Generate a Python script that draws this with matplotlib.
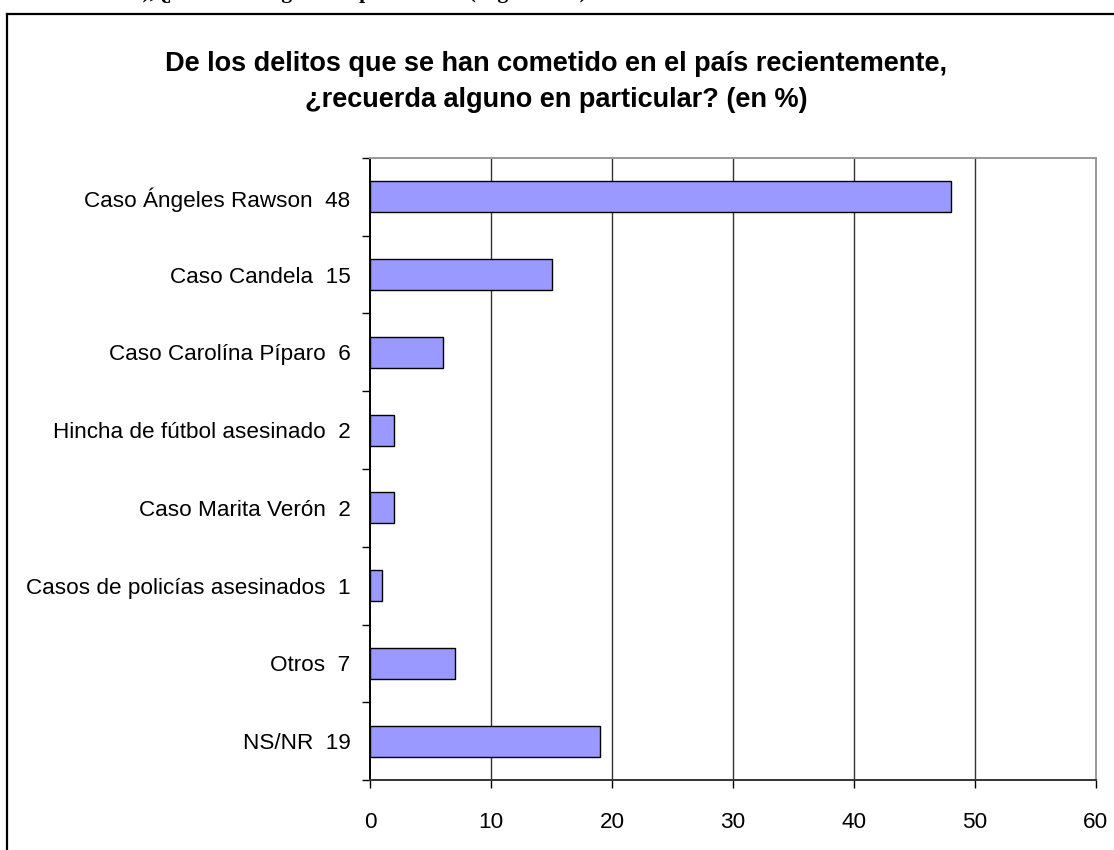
#!/usr/bin/env python3
"""Horizontal bar chart: delitos recordados (en %)."""

import matplotlib
matplotlib.use("Agg")
import matplotlib.pyplot as plt
from matplotlib import font_manager as fm
from matplotlib.lines import Line2D

CATEGORIES = [
    "Caso Ángeles Rawson",
    "Caso Candela",
    "Caso Carolína Píparo",
    "Hincha de fútbol asesinado",
    "Caso Marita Verón",
    "Casos de policías asesinados",
    "Otros",
    "NS/NR",
]
VALUES = [48, 15, 6, 2, 2, 1, 7, 19]
X_TICKS = [0, 10, 20, 30, 40, 50, 60]

TITLE = ("De los delitos que se han cometido en el país recientemente,\n"
         "¿recuerda alguno en particular? (en %)")
HEADER = "%), ¿ recuerda alguno en particular? (Según total)"

BAR_COLOR = "#9999FF"

try:
    fm.findfont(fm.FontProperties(family="Liberation Sans Narrow"),
                fallback_to_default=False)
    FAMILY = ["Liberation Sans Narrow", "Liberation Sans"]
    LABEL_SIZE, TICK_SIZE, TITLE_SIZE = 19.5, 19.5, 23.5
except Exception:
    FAMILY = ["Liberation Sans", "DejaVu Sans"]
    LABEL_SIZE, TICK_SIZE, TITLE_SIZE = 16.2, 16.2, 19.5

plt.rcParams["font.family"] = FAMILY

W, H = 1114, 850
fig = plt.figure(figsize=(W / 100, H / 100), dpi=100)
fig.patch.set_facecolor("white")

# outer frame (left and top visible, rest cut off)
fig.add_artist(Line2D([7 / W, 7 / W], [0, 1 - 14 / H], color="black",
                      lw=1.6, transform=fig.transFigure))
fig.add_artist(Line2D([7 / W, 1], [1 - 14 / H, 1 - 14 / H], color="black",
                      lw=1.6, transform=fig.transFigure))

# header line from the page above, cut off by the image edge
fig.text(121 / W, 1 + 2 / H, HEADER, ha="left", va="baseline",
         family=["Liberation Serif", "DejaVu Serif"], fontweight="bold",
         fontsize=15.5)

fig.text(556 / W, 1 - 82 / H, TITLE, ha="center", va="center",
         fontsize=TITLE_SIZE, fontweight="bold", linespacing=1.5)

ax = fig.add_axes([370 / W, 1 - 780 / H, (1096 - 370) / W, (780 - 158) / H])

ypos = list(range(len(CATEGORIES)))
ax.barh(ypos, VALUES, height=0.4, color=BAR_COLOR, edgecolor="black",
        linewidth=1.0, zorder=3)

ax.set_xlim(0, 60)
ax.set_ylim(len(CATEGORIES) - 0.5, -0.5)
ax.set_xticks(X_TICKS)
ax.set_xticklabels([str(t) for t in X_TICKS])
ax.set_yticks(ypos)
ax.set_yticklabels([f"{c}  {v}" for c, v in zip(CATEGORIES, VALUES)])
ax.set_yticks([i - 0.5 for i in range(len(CATEGORIES) + 1)], minor=True)

ax.tick_params(axis="y", which="major", length=0, pad=14,
               labelsize=LABEL_SIZE)
ax.tick_params(axis="y", which="minor", length=6, width=1, color="black",
               direction="out")
ax.tick_params(axis="x", length=6, width=1, direction="out", pad=17,
               labelsize=TICK_SIZE)

for x in X_TICKS[1:-1]:
    ax.axvline(x, color="#333333", lw=1.0, zorder=1)

ax.spines["left"].set_color("black")
ax.spines["bottom"].set_color("#333333")
ax.spines["top"].set_color("#999999")
ax.spines["right"].set_color("#999999")
for s in ax.spines.values():
    s.set_linewidth(1.4)

fig.savefig("out.png", dpi=100)
